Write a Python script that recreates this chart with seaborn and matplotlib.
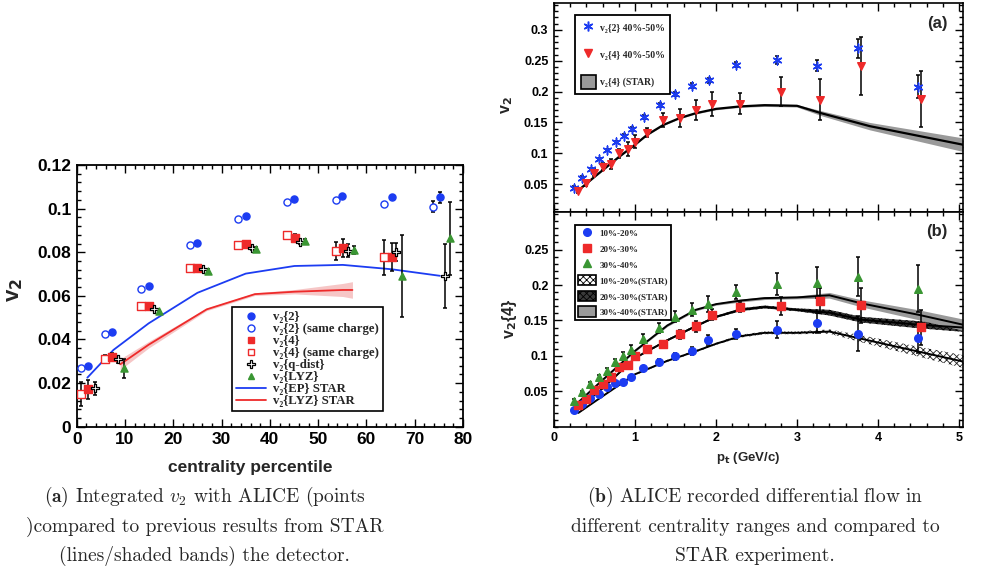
import numpy as np
import pandas as pd
import matplotlib
matplotlib.use("Agg")
import matplotlib.pyplot as plt
import seaborn as sns
from matplotlib.ticker import MultipleLocator, FuncFormatter
from matplotlib.lines import Line2D
from matplotlib.patches import Patch
from matplotlib.font_manager import FontProperties

# ---------------- data: left panel (integrated v2 vs centrality) ----------------
v22_x = [2.4, 7.4, 14.9, 25.0, 35.0, 45.0, 55.0, 65.2, 75.2]
v22_y = [0.0280, 0.0434, 0.0645, 0.0842, 0.0968, 0.1042, 0.1060, 0.1052, 0.1052]
v22_e = [0.0005, 0.0005, 0.0005, 0.0005, 0.0005, 0.0006, 0.0008, 0.0010, 0.0025]

v22sc_x = [0.8, 5.9, 13.4, 23.4, 33.5, 43.5, 53.6, 63.6, 73.7]
v22sc_y = [0.0267, 0.0423, 0.0631, 0.0832, 0.0954, 0.1029, 0.1041, 0.1020, 0.1009]
v22sc_e = [0.0005, 0.0005, 0.0005, 0.0005, 0.0005, 0.0006, 0.0008, 0.0010, 0.0025]

v24_x = [2.4, 7.4, 15.0, 25.0, 35.0, 45.1, 55.1, 65.3]
v24_y = [0.0171, 0.0320, 0.0553, 0.0728, 0.0838, 0.0867, 0.0819, 0.0777]
v24_e = [0.0045, 0.0020, 0.0010, 0.0010, 0.0010, 0.0015, 0.0042, 0.0065]

v24sc_x = [0.8, 5.9, 13.4, 23.5, 33.5, 43.6, 53.6, 63.6]
v24sc_y = [0.0148, 0.0310, 0.0553, 0.0726, 0.0832, 0.0877, 0.0807, 0.0777]
v24sc_e = [0.0055, 0.0020, 0.0010, 0.0010, 0.0010, 0.0015, 0.0042, 0.0080]

qd_x = [3.7, 8.6, 16.0, 26.2, 36.2, 46.3, 56.2, 66.2, 76.3]
qd_y = [0.0176, 0.0309, 0.0541, 0.0721, 0.0818, 0.0848, 0.0807, 0.0802, 0.0691]
qd_e = [0.0030, 0.0015, 0.0008, 0.0008, 0.0008, 0.0010, 0.0030, 0.0040, 0.0148]

lyz_x = [9.7, 17.0, 27.2, 37.2, 47.3, 57.4, 67.4, 77.4]
lyz_y = [0.0267, 0.0529, 0.0715, 0.0815, 0.0851, 0.0810, 0.0691, 0.0864]
lyz_e = [0.0045, 0.0008, 0.0008, 0.0008, 0.0010, 0.0020, 0.0190, 0.0168]

star_ep_x = [2.2, 7.6, 14.9, 25.0, 35.0, 45.1, 55.1, 65.2, 75.2]
star_ep_y = [0.0225, 0.0352, 0.0474, 0.0614, 0.0702, 0.0737, 0.0742, 0.0722, 0.0692]

star_lyz_x = [9.0, 14.9, 26.9, 36.9, 45.1, 55.1, 57.1]
star_lyz_y = [0.0286, 0.0376, 0.0538, 0.0608, 0.0619, 0.0627, 0.0627]
star_lyz_band = [0.0025, 0.0015, 0.0006, 0.0006, 0.0010, 0.0030, 0.0038]

left_labels = ["v₂{2}", "v₂{2} (same charge)", "v₂{4}", "v₂{4} (same charge)",
               "v₂{q-dist}", "v₂{LYZ}", "v₂{EP} STAR", "v₂{LYZ} STAR"]

# ---------------- data: right panel (a) 40-50% ----------------
pa_x2 = [0.25, 0.35, 0.455, 0.56, 0.66, 0.76, 0.86, 0.96, 1.11, 1.31, 1.50, 1.71, 1.91, 2.25, 2.75, 3.25, 3.75, 4.49]
pa_v22 = [0.0446, 0.0608, 0.0748, 0.0905, 0.1056, 0.1180, 0.1288, 0.1390, 0.1590, 0.1780, 0.1963, 0.2093, 0.2180,
          0.2433, 0.2509, 0.2422, 0.2700, 0.2080]
pa_v22_e = [0.002, 0.002, 0.002, 0.002, 0.002, 0.002, 0.003, 0.003, 0.003, 0.003, 0.003, 0.004, 0.004,
            0.004, 0.006, 0.009, 0.0155, 0.019]
pa_x4 = [0.30, 0.40, 0.50, 0.60, 0.70, 0.80, 0.91, 1.00, 1.15, 1.35, 1.55, 1.75, 1.95, 2.30, 2.80, 3.29, 3.79, 4.53]
pa_v24 = [0.0397, 0.0516, 0.0689, 0.0786, 0.0829, 0.1002, 0.1067, 0.1191, 0.1337, 0.1542, 0.1570, 0.1704, 0.1800,
          0.1800, 0.2000, 0.1866, 0.2420, 0.1877]
pa_v24_e = [0.004, 0.005, 0.005, 0.006, 0.008, 0.007, 0.011, 0.011, 0.008, 0.011, 0.014, 0.016, 0.020,
            0.017, 0.024, 0.033, 0.047, 0.045]
pa_star_x = [0.3, 0.5, 0.8, 1.0, 1.15, 1.35, 1.55, 1.75, 2.0, 2.3, 2.6, 3.0, 3.3, 3.9, 5.05]
pa_star_y = [0.040, 0.062, 0.094, 0.114, 0.130, 0.146, 0.157, 0.165, 0.172, 0.176, 0.178, 0.177, 0.165, 0.144, 0.114]
pa_star_b = [0.001, 0.001, 0.001, 0.001, 0.001, 0.001, 0.001, 0.0012, 0.0015, 0.0015, 0.002, 0.002, 0.004, 0.006, 0.011]
a_labels = ["v₂{2} 40%-50%", "v₂{4} 40%-50%", "v₂{4} (STAR)"]

# ---------------- data: right panel (b) v2{4} three centralities ----------------
pb_x = [0.25, 0.35, 0.45, 0.55, 0.65, 0.75, 0.85, 0.95, 1.10, 1.30, 1.50, 1.70, 1.90, 2.25, 2.75, 3.25, 3.75, 4.49]
pb_xr = [0.30, 0.40, 0.50, 0.60, 0.70, 0.80, 0.91, 1.00, 1.15, 1.35, 1.55, 1.75, 1.95, 2.30, 2.80, 3.29, 3.79, 4.53]
pb_c1020 = [0.0243, 0.0320, 0.0411, 0.0458, 0.0557, 0.0610, 0.0633, 0.0700, 0.0830, 0.0910, 0.0995, 0.1070, 0.1225,
            0.1310, 0.1366, 0.1460, 0.1314, 0.1253]
pb_c1020_e = [0.002, 0.002, 0.002, 0.002, 0.002, 0.002, 0.003, 0.003, 0.003, 0.004, 0.005, 0.006, 0.007,
              0.007, 0.012, 0.014, 0.025, 0.021]
pb_c2030 = [0.0307, 0.0397, 0.0515, 0.0600, 0.0703, 0.0839, 0.0867, 0.0994, 0.1093, 0.1164, 0.1305, 0.1418, 0.1582,
            0.1690, 0.1705, 0.1780, 0.1714, 0.1404]
pb_c2030_e = [0.002, 0.002, 0.002, 0.003, 0.003, 0.004, 0.004, 0.004, 0.004, 0.005, 0.006, 0.008, 0.008,
              0.007, 0.013, 0.018, 0.025, 0.025]
pb_c3040 = [0.0369, 0.0486, 0.0604, 0.0703, 0.0783, 0.0910, 0.1004, 0.1089, 0.1244, 0.1390, 0.1554, 0.1653, 0.1728,
            0.1907, 0.2015, 0.2034, 0.2119, 0.1950]
pb_c3040_e = [0.002, 0.002, 0.003, 0.003, 0.004, 0.005, 0.005, 0.006, 0.006, 0.007, 0.008, 0.009, 0.011,
              0.010, 0.016, 0.022, 0.028, 0.033]
star_x = [0.3, 0.6, 1.0, 1.4, 1.75, 2.0, 2.3, 2.6, 3.0, 3.4, 3.8, 4.5, 5.05]
star1020_y = [0.0195, 0.043, 0.074, 0.093, 0.1065, 0.117, 0.1277, 0.1325, 0.1325, 0.1343, 0.124, 0.106, 0.092]
star1020_b = [0.001, 0.001, 0.0012, 0.0015, 0.0015, 0.0015, 0.002, 0.002, 0.002, 0.003, 0.005, 0.007, 0.009]
star2030_y = [0.0265, 0.054, 0.097, 0.122, 0.142, 0.155, 0.165, 0.169, 0.165, 0.161, 0.151, 0.144, 0.140]
star2030_b = [0.001, 0.001, 0.0012, 0.0015, 0.0015, 0.0015, 0.002, 0.002, 0.002, 0.004, 0.004, 0.005, 0.006]
star3040_y = [0.0345, 0.066, 0.107, 0.143, 0.165, 0.173, 0.178, 0.1815, 0.1825, 0.1855, 0.174, 0.158, 0.144]
star3040_b = [0.001, 0.001, 0.0012, 0.0015, 0.0015, 0.0015, 0.002, 0.002, 0.002, 0.004, 0.005, 0.007, 0.008]
b_labels = ["10%-20%", "20%-30%", "30%-40%", "10%-20%(STAR)", "20%-30%(STAR)", "30%-40%(STAR)"]

# ---------------- style ----------------
sns.set_style("ticks")
plt.rcParams['font.family'] = ['Liberation Sans', 'DejaVu Sans']
plt.rcParams['mathtext.fontset'] = 'stix'
plt.rcParams['hatch.linewidth'] = 0.6

BLUE = '#1c3cf2'
RED = '#ee2a2a'
GREEN = '#3a9633'
PINK = '#f3b4b4'
SERIF = ['Liberation Serif', 'DejaVu Serif']

fig = plt.figure(figsize=(9.9, 5.82), dpi=100)
axL = fig.add_axes([0.0775, 0.2668, 0.3902, 0.4497])
axA = fig.add_axes([0.5596, 0.6357, 0.4131, 0.3587])
axB = fig.add_axes([0.5596, 0.2668, 0.4131, 0.3689])


def points(ax, x, y, err, marker, face, edge, size, lw=1.0, z=4):
    ax.errorbar(x, y, yerr=err, fmt='none', ecolor='black', elinewidth=1.1,
                capsize=1.6, capthick=1.1, zorder=z - 1)
    df = pd.DataFrame({'x': x, 'y': y})
    sns.scatterplot(data=df, x='x', y='y', ax=ax, marker=marker, s=size, color=face,
                    edgecolor=edge, linewidth=lw, zorder=z, legend=False)


def line(ax, x, y, color, lw):
    df = pd.DataFrame({'x': x, 'y': y})
    sns.lineplot(data=df, x='x', y='y', ax=ax, color=color, lw=lw, sort=False,
                 estimator=None, zorder=2, legend=False)


def frame(ax, lw=1.2, major=6, minor=3, lsize=12):
    for s in ax.spines.values():
        s.set_linewidth(lw)
        s.set_color('black')
        s.set_visible(True)
    ax.tick_params(which='both', direction='in', top=True, right=True, width=1.0,
                   colors='black')
    ax.tick_params(which='major', length=major, labelsize=lsize, pad=4)
    ax.tick_params(which='minor', length=minor)
    for lab in ax.get_xticklabels() + ax.get_yticklabels():
        lab.set_fontweight('bold')
    ax.set_xlabel('')
    ax.set_ylabel('')


gfmt = FuncFormatter(lambda v, p: '%g' % round(v, 4))

# ---------------- left panel ----------------
a = np.array
band_lo = a(star_lyz_y) - a(star_lyz_band)
band_hi = a(star_lyz_y) + a(star_lyz_band)
axL.fill_between(star_lyz_x, band_lo, band_hi, color=PINK, alpha=0.75, lw=0, zorder=1)
line(axL, star_ep_x, star_ep_y, BLUE, 1.3)
line(axL, star_lyz_x, star_lyz_y, RED, 1.3)
points(axL, v22sc_x, v22sc_y, v22sc_e, 'o', 'white', BLUE, 26)
points(axL, v22_x, v22_y, v22_e, 'o', BLUE, BLUE, 26)
points(axL, v24sc_x, v24sc_y, v24sc_e, 's', 'white', RED, 30)
points(axL, v24_x, v24_y, v24_e, 's', RED, RED, 30)
points(axL, qd_x, qd_y, qd_e, 'P', 'white', 'black', 40, lw=0.9)
points(axL, lyz_x, lyz_y, lyz_e, '^', GREEN, GREEN, 26)

axL.set_xlim(0, 80)
axL.set_ylim(0, 0.12)
axL.xaxis.set_major_locator(MultipleLocator(10))
axL.xaxis.set_minor_locator(MultipleLocator(2))
axL.yaxis.set_major_locator(MultipleLocator(0.02))
axL.yaxis.set_minor_locator(MultipleLocator(0.004))
axL.yaxis.set_major_formatter(gfmt)
frame(axL, lw=1.3, major=6, minor=3, lsize=12.5)

leg_font = FontProperties(family=SERIF, weight='bold', size=9.2)
hL = [
    Line2D([], [], ls='', marker='o', mfc=BLUE, mec=BLUE, ms=5),
    Line2D([], [], ls='', marker='o', mfc='white', mec=BLUE, ms=5),
    Line2D([], [], ls='', marker='s', mfc=RED, mec=RED, ms=5),
    Line2D([], [], ls='', marker='s', mfc='white', mec=RED, ms=5),
    Line2D([], [], ls='', marker='P', mfc='white', mec='black', ms=6, mew=0.9),
    Line2D([], [], ls='', marker='^', mfc=GREEN, mec=GREEN, ms=5),
    Line2D([], [], color=BLUE, lw=1.3),
    Line2D([], [], color=RED, lw=1.3),
]
legL = axL.legend(hL, left_labels, loc='upper left', bbox_to_anchor=(0.403, 0.458), prop=leg_font,
                  frameon=True, fancybox=False, edgecolor='black', framealpha=1,
                  borderpad=0.3, labelspacing=0.0, handlelength=2.3, handletextpad=0.6,
                  handleheight=0.5, borderaxespad=0)
legL.get_frame().set_linewidth(1.2)

fig.text(0.015, 0.501, r"v$_\mathbf{2}$", rotation=90, ha='center', va='center',
         fontsize=16, fontweight='bold', math_fontfamily='dejavusans')
fig.text(0.2525, 0.196, "centrality percentile", ha='center', va='center',
         fontsize=12.5, fontweight='bold')

# ---------------- right panel (a) ----------------
lo = a(pa_star_y) - a(pa_star_b)
hi = a(pa_star_y) + a(pa_star_b)
axA.fill_between(pa_star_x, lo, hi, color='#9a9a9a', lw=0, zorder=1)
line(axA, pa_star_x, pa_star_y, 'black', 1.6)
points(axA, pa_x2, pa_v22, pa_v22_e, (6, 2, 0), BLUE, BLUE, 40, lw=1.1)
points(axA, pa_x4, pa_v24, pa_v24_e, 'v', RED, RED, 30)
axA.set_xlim(0, 5.05)
axA.set_ylim(0.005, 0.343)
axA.xaxis.set_major_locator(MultipleLocator(1))
axA.xaxis.set_minor_locator(MultipleLocator(0.2))
axA.yaxis.set_major_locator(MultipleLocator(0.05))
axA.yaxis.set_minor_locator(MultipleLocator(0.01))
axA.yaxis.set_major_formatter(gfmt)
axA.set_yticks([0.05, 0.1, 0.15, 0.2, 0.25, 0.3])
frame(axA, lw=1.2, major=6, minor=3, lsize=9)
axA.tick_params(labelbottom=False)
axA.text(0.962, 0.905, "(a)", transform=axA.transAxes, ha='right', va='center',
         fontsize=12, fontweight='bold')

small_font = FontProperties(family=SERIF, weight='bold', size=7)
hA = [Line2D([], [], ls='', marker=(6, 2, 0), mec=BLUE, mfc=BLUE, ms=7, mew=1.1),
      Line2D([], [], ls='', marker='v', mfc=RED, mec=RED, ms=5.5),
      Patch(facecolor='#9a9a9a', edgecolor='black', lw=1.2)]
legA = axA.legend(hA, a_labels, loc='upper left', bbox_to_anchor=(0.052, 0.943), prop=small_font,
                  frameon=True, fancybox=False, edgecolor='black', framealpha=1,
                  borderpad=0.55, labelspacing=1.3, handlelength=1.6, handleheight=1.9,
                  handletextpad=0.4, borderaxespad=0)
legA.get_frame().set_linewidth(1.3)
fig.text(0.512, 0.82, r"v$_\mathbf{2}$", rotation=90, ha='center', va='center',
         fontsize=11.5, fontweight='bold', math_fontfamily='dejavusans')

# ---------------- right panel (b) ----------------
bands = [(star1020_y, star1020_b, dict(facecolor='white', edgecolor='#222222', hatch='xxxxx')),
         (star2030_y, star2030_b, dict(facecolor='#3a3a3a', edgecolor='black', hatch='xxxxx')),
         (star3040_y, star3040_b, dict(facecolor='#9a9a9a', edgecolor='#9a9a9a'))]
for yy, bb, kw in bands:
    axB.fill_between(star_x, a(yy) - a(bb), a(yy) + a(bb), lw=0, zorder=1, **kw)
for yy, _, _ in bands:
    line(axB, star_x, yy, 'black', 1.4)
points(axB, pb_x, pb_c1020, pb_c1020_e, 'o', BLUE, BLUE, 30)
points(axB, pb_xr, pb_c2030, pb_c2030_e, 's', RED, RED, 34)
points(axB, pb_x, pb_c3040, pb_c3040_e, '^', GREEN, GREEN, 30)
axB.set_xlim(0, 5.05)
axB.set_ylim(0, 0.303)
axB.xaxis.set_major_locator(MultipleLocator(1))
axB.xaxis.set_minor_locator(MultipleLocator(0.2))
axB.yaxis.set_minor_locator(MultipleLocator(0.01))
axB.set_yticks([0.05, 0.1, 0.15, 0.2, 0.25])
axB.yaxis.set_major_formatter(gfmt)
frame(axB, lw=1.2, major=6, minor=3, lsize=9)
axB.text(0.962, 0.91, "(b)", transform=axB.transAxes, ha='right', va='center',
         fontsize=12, fontweight='bold')

tiny_font = FontProperties(family=SERIF, weight='bold', size=6.5)
hB = [Line2D([], [], ls='', marker='o', mfc=BLUE, mec=BLUE, ms=5.5),
      Line2D([], [], ls='', marker='s', mfc=RED, mec=RED, ms=5.5),
      Line2D([], [], ls='', marker='^', mfc=GREEN, mec=GREEN, ms=5.5),
      Patch(facecolor='white', edgecolor='black', hatch='xxxxx', lw=1.2),
      Patch(facecolor='#3a3a3a', edgecolor='black', hatch='xxxxx', lw=1.2),
      Patch(facecolor='#9a9a9a', edgecolor='black', lw=1.2)]
legB = axB.legend(hB, b_labels, loc='upper left', bbox_to_anchor=(0.052, 0.94), prop=tiny_font,
                  frameon=True, fancybox=False, edgecolor='black', framealpha=1,
                  borderpad=0.35, labelspacing=0.58, handlelength=1.9, handleheight=1.4,
                  handletextpad=0.4, borderaxespad=0)
legB.get_frame().set_linewidth(1.3)
fig.text(0.515, 0.453, r"v$_\mathbf{2}${4}", rotation=90, ha='center', va='center',
         fontsize=11.5, fontweight='bold', math_fontfamily='dejavusans')
fig.text(0.756, 0.213, r"p$_\mathbf{t}$ (GeV/c)", ha='center', va='center',
         fontsize=9.5, fontweight='bold', math_fontfamily='dejavusans')

# ---------------- captions ----------------
cap = dict(ha='center', va='center', fontsize=14, family='cmr10', math_fontfamily='cm')
fig.text(0.207, 0.146, r"$\mathbf{(a)}$ Integrated $v_2$ with ALICE (points", **cap)
fig.text(0.207, 0.0945, ")compared to previous results from STAR", **cap)
fig.text(0.207, 0.0447, "(lines/shaded bands) the detector.", **cap)
fig.text(0.7626, 0.146, r"$\mathbf{(b)}$ ALICE recorded differential flow in", **cap)
fig.text(0.7626, 0.0945, "different centrality ranges and compared to", **cap)
fig.text(0.7626, 0.0447, "STAR experiment.", **cap)

fig.savefig("out.png", dpi=100)
